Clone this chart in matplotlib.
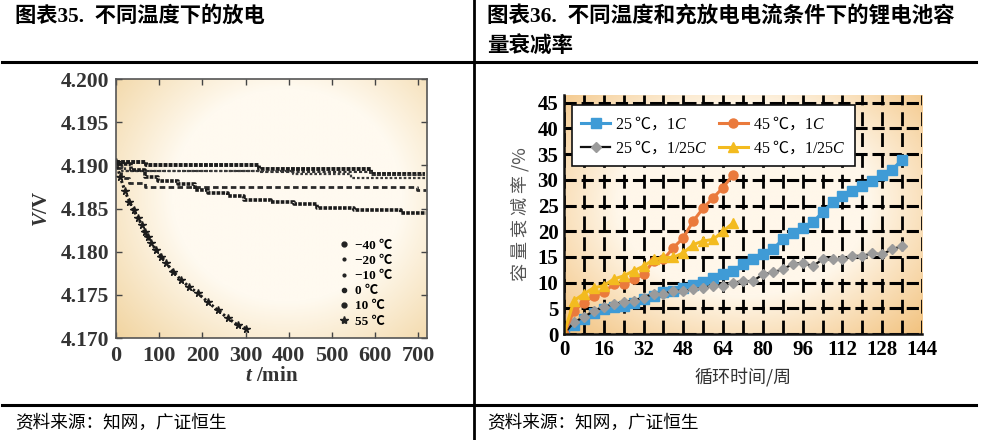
import numpy as np
import matplotlib
matplotlib.use('Agg')
import matplotlib.pyplot as plt
from matplotlib.lines import Line2D
from matplotlib.colors import LinearSegmentedColormap

plt.rcParams['font.family'] = ['Liberation Serif', 'Noto Sans CJK SC', 'DejaVu Sans']
plt.rcParams['mathtext.fontset'] = 'custom'
plt.rcParams['mathtext.rm'] = 'Liberation Serif'
plt.rcParams['mathtext.it'] = 'Liberation Serif:italic'
plt.rcParams['mathtext.bf'] = 'Liberation Serif:bold'
plt.rcParams['mathtext.bfit'] = 'Liberation Serif:italic:bold'
plt.rcParams['axes.unicode_minus'] = False

# ---- left chart: discharge at different temperatures (step levels)
t_m40 = [0, 70, 330, 590, 715]
v_m40 = [4.1904, 4.1900, 4.1896, 4.1890, 4.1890]
t_m20 = [0, 15, 330, 590, 715]
v_m20 = [4.1900, 4.1894, 4.1892, 4.1889, 4.1889]
t_m10 = [0, 12, 30, 66, 697, 717]
v_m10 = [4.1897, 4.1885, 4.1879, 4.1875, 4.1871, 4.1871]
t_0 = [0, 20, 410, 545, 715]
v_0 = [4.1898, 4.1893, 4.1890, 4.1885, 4.1885]
t_10 = [0, 5, 35, 66, 97, 143, 182, 212, 259, 297, 359, 413, 466, 551, 659, 717]
v_10 = [4.1904, 4.1902, 4.1895, 4.1887, 4.1882, 4.1878, 4.1872, 4.1868, 4.1864,
        4.1860, 4.1858, 4.1855, 4.1851, 4.1848, 4.1845, 4.1845]
t_55 = [0, 10, 21, 31, 41, 51, 60, 66, 74, 82, 93, 105, 116, 132, 151, 170, 189,
        212, 236, 259, 282, 301]
v_55 = [4.1904, 4.1886, 4.1870, 4.1858, 4.1848, 4.1839, 4.1831, 4.1823, 4.1817,
        4.1810, 4.1802, 4.1794, 4.1787, 4.1777, 4.1767, 4.1759, 4.1752, 4.1742,
        4.1732, 4.1723, 4.1715, 4.1711]
temp_labels = ['\u221240 \u2103', '\u221220 \u2103', '\u221210 \u2103', '0 \u2103', '10 \u2103', '55 \u2103']
left_xticks = [0, 100, 200, 300, 400, 500, 600, 700]
left_yticks = [4.170, 4.175, 4.180, 4.185, 4.190, 4.195, 4.200]

# ---- right chart: capacity fade
cyc_long = [0, 4, 8, 12, 16, 20, 24, 28, 32, 36, 40, 44, 48, 52, 56, 60, 64, 68,
            72, 76, 80, 84, 88, 92, 96, 100, 104, 108, 112, 116, 120, 124, 128, 132, 136]
fade_25_1c = [0, 1.7, 2.9, 4.1, 4.8, 5.2, 5.5, 6.0, 6.8, 7.4, 8.1, 8.4, 9.0, 9.5,
              10.1, 10.8, 11.6, 12.3, 13.6, 14.5, 15.5, 16.5, 18.4, 19.7, 20.7,
              21.7, 23.7, 25.6, 26.8, 27.8, 28.7, 29.7, 31.0, 32.0, 33.9]
fade_25_low = [0, 2.3, 3.3, 4.5, 5.2, 5.8, 6.2, 6.5, 7.1, 7.8, 7.8, 8.4, 8.4, 8.7,
               9.0, 9.4, 9.4, 10.0, 10.3, 10.3, 11.6, 12.0, 12.6, 13.6, 13.9, 13.2,
               14.5, 14.5, 14.5, 15.2, 15.2, 15.7, 15.5, 16.5, 17.1]
cyc_short = [0, 4, 8, 12, 16, 20, 24, 28, 32, 36, 40, 44, 48, 52, 56, 60, 64, 68]
fade_45_1c = [0, 4.5, 6.1, 7.4, 8.1, 9.7, 9.7, 10.7, 11.6, 14.2, 14.5, 16.8, 18.7,
              22.0, 24.5, 26.5, 28.5, 31.0]
fade_45_low = [0, 6.5, 7.8, 9.0, 9.4, 10.7, 11.3, 12.3, 13.2, 14.5, 14.9, 14.9,
               15.8, 17.4, 18.1, 18.4, 20.0, 21.6]
series_labels = [r'$\mathrm{25}$ ℃，$\mathrm{1}C$', r'$\mathrm{25}$ ℃，$\mathrm{1/25}C$',
                 r'$\mathrm{45}$ ℃，$\mathrm{1}C$', r'$\mathrm{45}$ ℃，$\mathrm{1/25}C$']
right_xticks = [0, 16, 32, 48, 64, 80, 96, 112, 128, 144]
right_yticks = [0, 5, 10, 15, 20, 25, 30, 35, 40, 45]


def radial_bg(ax, c_in, c_out, cx=0.5, cy=0.5):
    yy, xx = np.mgrid[0:1:300j, 0:1:300j]
    r = np.sqrt((xx - cx) ** 2 + ((yy - cy) * 0.9) ** 2)
    r = r / r.max()
    cmap = LinearSegmentedColormap.from_list('bg', [c_in, c_in, c_out])
    ax.imshow(r, cmap=cmap, extent=(0, 1, 0, 1), transform=ax.transAxes,
              aspect='auto', origin='lower', zorder=-2, interpolation='bilinear')


fig = plt.figure(figsize=(9.94, 4.4), dpi=100)
W, H = 994.0, 440.0

# page frame
fig.add_artist(Line2D([2 / W, 976 / W], [1 - 62.5 / H] * 2, color='k', lw=2.2))
fig.add_artist(Line2D([2 / W, 976 / W], [1 - 405 / H] * 2, color='k', lw=2.2))
fig.add_artist(Line2D([473.5 / W] * 2, [0, 1], color='k', lw=2.0))

title_font = ['Liberation Serif', 'Noto Sans CJK SC']
fig.text(15 / W, 1 - 17 / H, '图表35.  不同温度下的放电', fontsize=15.3, fontweight='bold',
         va='center', ha='left', family=title_font)
fig.text(487 / W, 1 - 17 / H, '图表36.  不同温度和充放电电流条件下的锂电池容', fontsize=15.5,
         fontweight='bold', va='center', ha='left', family=title_font)
fig.text(487 / W, 1 - 47 / H, '量衰减率', fontsize=15.5, fontweight='bold',
         va='center', ha='left', family=title_font)
fig.text(15 / W, 1 - 423 / H, '资料来源：知网，广证恒生', fontsize=12.7,
         va='center', ha='left', family=['Noto Sans CJK SC'])
fig.text(487 / W, 1 - 423 / H, '资料来源：知网，广证恒生', fontsize=12.7,
         va='center', ha='left', family=['Noto Sans CJK SC'])

# ---------------- left chart
ax1 = fig.add_axes([116 / W, 1 - 338 / H, 311 / W, 259 / H])
radial_bg(ax1, '#fffaf0', '#f1d4a0', cx=0.55, cy=0.55)
dark = '#1c1c1c'
ax1.plot(t_m40, v_m40, drawstyle='steps-post', color=dark, lw=2.8, ls=(0, (1, 0.3)))
ax1.plot(t_m20, v_m20, drawstyle='steps-post', color='#333333', lw=1.5, ls=(0, (1.5, 1)))
ax1.plot(t_m10, v_m10, drawstyle='steps-post', color='#2a2a2a', lw=2.0, ls=(0, (2, 1.2)))
ax1.plot(t_0, v_0, drawstyle='steps-post', color='#3a3a3a', lw=1.6, ls=(0, (1.2, 0.9)))
ax1.plot(t_10, v_10, drawstyle='steps-post', color=dark, lw=2.6, ls=(0, (1, 0.35)))
ax1.plot(t_55, v_55, color=dark, lw=2.2, ls=(0, (0.8, 0.8)), marker='*', ms=5.5,
         mec=dark, mfc=dark)
ax1.set_xlim(0, 720)
ax1.set_ylim(4.170, 4.200)
ax1.set_xticks(left_xticks)
ax1.set_yticks(left_yticks)
ax1.set_yticklabels(['%.3f' % v for v in left_yticks])
ax1.tick_params(direction='in', top=True, right=True, length=4, width=1.0,
                colors='#444444', pad=5)
ax1.tick_params(axis='x', labelsize=16, pad=6)
ax1.tick_params(axis='y', labelsize=15.5)
for lab in ax1.get_xticklabels() + ax1.get_yticklabels():
    lab.set_fontweight('bold')
    lab.set_color('#333333')
for sp in ax1.spines.values():
    sp.set_color('#555555')
    sp.set_linewidth(1.2)
ax1.set_xlabel(r'$\mathbfit{t}$ /min', fontsize=15, fontweight='bold', color='#333333',
               labelpad=0)
ax1.set_ylabel(r'$\mathbfit{V}$/V', fontsize=15, fontweight='bold', color='#333333',
               labelpad=6)

marker_sizes = [3.5, 2.0, 2.0, 3.0, 3.5, 6]
markers = ['o', 'o', 'o', 'o', 'o', '*']
h_left = [Line2D([], [], ls='none', marker=m, ms=s, color='#222222')
          for m, s in zip(markers, marker_sizes)]
ax1.legend(h_left, temp_labels, loc='upper left', bbox_to_anchor=(0.70, 0.40),
           frameon=False, handlelength=0.8, handletextpad=0.4,
           labelspacing=0.22, borderaxespad=0,
           prop={'family': ['Liberation Serif', 'Noto Sans CJK SC'], 'weight': 'bold', 'size': 9.5})

# ---------------- right chart
ax2 = fig.add_axes([564 / W, 1 - 334 / H, 358 / W, 239 / H])
radial_bg(ax2, '#fff7ea', '#f2c27e', cx=0.5, cy=0.55)
ax2.set_xlim(0, 143)
ax2.set_ylim(0, 46.5)
ax2.set_xticks(right_xticks)
ax2.set_yticks(right_yticks)
ax2.xaxis.set_minor_locator(matplotlib.ticker.MultipleLocator(8))
ax2.set_axisbelow(True)
ax2.xaxis.grid(True, which='both', color='k', lw=2.0, ls=(0, (5, 2.5)))
ax2.yaxis.grid(True, which='major', color='k', lw=2.2, ls=(0, (4, 1.6)))
ax2.tick_params(which='both', length=0, labelsize=15, pad=4)
for lab in ax2.get_xticklabels() + ax2.get_yticklabels():
    lab.set_fontweight('bold')
for sp in ['top', 'right']:
    ax2.spines[sp].set_visible(False)
for sp in ['left', 'bottom']:
    ax2.spines[sp].set_linewidth(1.8)
    ax2.spines[sp].set_color('#111111')

c_blue, c_orange, c_gray, c_yellow = '#3f9bd6', '#ea7a3c', '#9b9b9b', '#f3bb1f'
l1, = ax2.plot(cyc_long, fade_25_1c, color=c_blue, lw=2.2, marker='s', ms=7,
               mfc=c_blue, mec=c_blue)
l2, = ax2.plot(cyc_long, fade_25_low, color='#111111', lw=1.6, marker='D', ms=5.5,
               mfc=c_gray, mec=c_gray)
l3, = ax2.plot(cyc_short, fade_45_1c, color=c_orange, lw=2.2, marker='o', ms=6.5,
               mfc=c_orange, mec=c_orange)
l4, = ax2.plot(cyc_short, fade_45_low, color=c_yellow, lw=2.2, marker='^', ms=7,
               mfc=c_yellow, mec=c_yellow)
leg = ax2.legend([l1, l2, l3, l4], series_labels, ncol=2, loc='upper left',
                 bbox_to_anchor=(0.022, 0.958), borderaxespad=0, frameon=True,
                 fancybox=False, edgecolor='#111111', framealpha=1,
                 handlelength=1.8, handletextpad=0.3, columnspacing=0.7,
                 labelspacing=0.4, borderpad=0.6,
                 prop={'family': ['Noto Sans CJK SC'], 'size': 11.5})
leg.get_frame().set_linewidth(1.2)

ax2.set_xlabel('循环时间/周', fontsize=13, color='#333333', labelpad=6,
               family=['Noto Sans CJK SC'])
ax2.set_ylabel('容 量 衰 减 率 /%', fontsize=13, color='#555555', labelpad=6,
               family=['Noto Sans CJK SC'])

fig.savefig('out.png', dpi=100)
